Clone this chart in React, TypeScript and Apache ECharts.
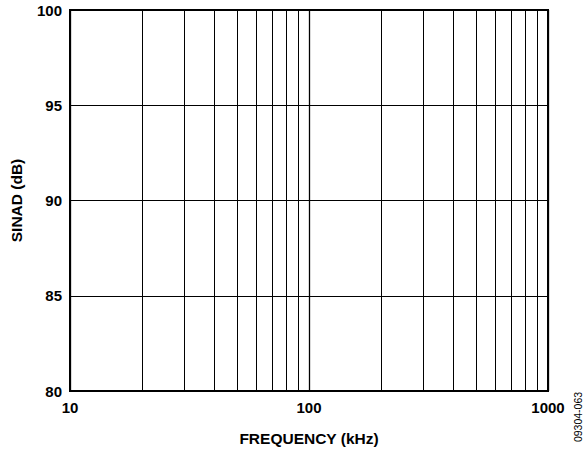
import React, { useEffect, useRef } from "react";
import * as echarts from "echarts";

const freqMin = 10;
const freqMax = 1000;
const sinadMin = 80;
const sinadMax = 100;
const sinadStep = 5;
const minorFreqs = [20, 30, 40, 50, 60, 70, 80, 90, 200, 300, 400, 500, 600, 700, 800, 900];
const sinadData: [number, number][] = [];

const FONT = "'Liberation Sans', Arial, Helvetica, sans-serif";

export default function App() {
  const ref = useRef<HTMLDivElement>(null);
  useEffect(() => {
    if (!ref.current) return;
    const chart = echarts.init(ref.current, undefined, { renderer: "svg" });
    chart.setOption({
      animation: false,
      backgroundColor: "#fff",
      grid: {
        left: 70,
        top: 10,
        right: 39,
        bottom: 61,
        show: true,
        borderColor: "#000",
        borderWidth: 2,
        backgroundColor: "transparent",
      },
      xAxis: {
        type: "log",
        logBase: 10,
        min: freqMin,
        max: freqMax,
        name: "FREQUENCY (kHz)",
        nameLocation: "middle",
        nameGap: 39,
        nameTextStyle: { fontFamily: FONT, fontWeight: "bold", fontSize: 15.5, color: "#000" },
        axisLine: { show: false },
        axisTick: { show: false },
        axisLabel: {
          fontFamily: FONT,
          fontWeight: "bold",
          fontSize: 15,
          color: "#000",
          margin: 9,
          formatter: (v: number) => String(Math.round(v)),
        },
        splitLine: { show: true, lineStyle: { color: "#000", width: 1.3 } },
      },
      yAxis: {
        type: "value",
        min: sinadMin,
        max: sinadMax,
        interval: sinadStep,
        name: "SINAD (dB)",
        nameLocation: "middle",
        nameGap: 46,
        nameTextStyle: { fontFamily: FONT, fontWeight: "bold", fontSize: 15.5, color: "#000" },
        axisLine: { show: false },
        axisTick: { show: false },
        axisLabel: { fontFamily: FONT, fontWeight: "bold", fontSize: 15, color: "#000", margin: 8 },
        splitLine: { show: true, lineStyle: { color: "#000", width: 1 } },
      },
      series: [
        {
          type: "line",
          data: sinadData,
          showSymbol: false,
          silent: true,
          markLine: {
            silent: true,
            symbol: "none",
            label: { show: false },
            lineStyle: { color: "#000", width: 1, type: "solid" },
            data: minorFreqs.map((f) => ({ xAxis: f })),
          },
        },
      ],
      graphic: [
        {
          type: "text",
          x: 578,
          y: 417,
          rotation: Math.PI / 2,
          style: {
            text: "09304-063",
            fontFamily: FONT,
            fontSize: 10.5,
            fill: "#000",
            align: "center",
            verticalAlign: "middle",
          },
        },
      ],
    });
    return () => chart.dispose();
  }, []);
  return (
    <div
      ref={ref}
      style={{ position: "absolute", left: 0, top: 0, width: 587, height: 452 }}
    />
  );
}
